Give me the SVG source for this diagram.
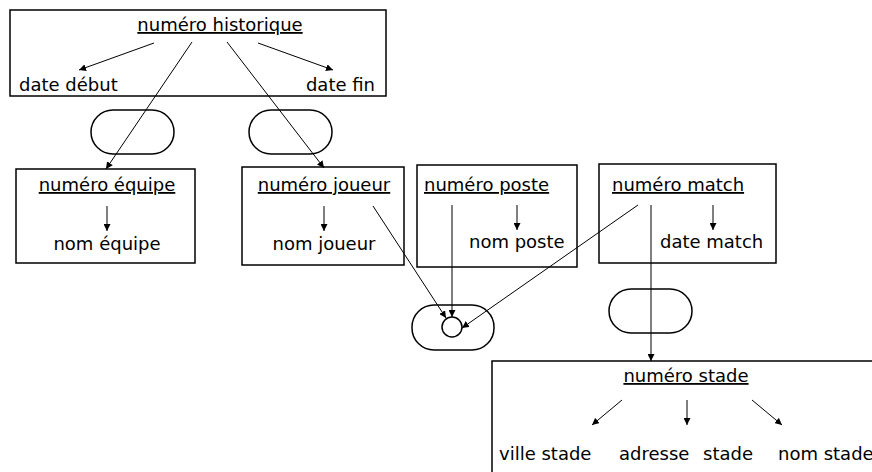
<svg xmlns="http://www.w3.org/2000/svg" width="872" height="472" viewBox="0 0 872 472">
<style>
.box{fill:#fff;stroke:#000;stroke-width:1.5}
.pill{fill:none;stroke:#000;stroke-width:1.5}
text{font-family:"DejaVu Sans",sans-serif;font-size:18px;fill:#000}
.u{text-decoration:underline}
.c{text-anchor:middle}
.ln{stroke:#000;stroke-width:1;fill:none}
</style>
<defs>
<marker id="ah" viewBox="0 0 10 10" refX="10" refY="5" markerWidth="7" markerHeight="7" markerUnits="userSpaceOnUse" orient="auto">
<path d="M0,0 L10,5 L0,10 z" fill="#000"/>
</marker>
</defs>
<rect width="872" height="472" fill="#fff"/>
<g id="historique">
<rect class="box" x="10" y="10" width="376" height="86"/>
<text class="c u" x="220" y="31">numéro historique</text>
<text x="19" y="91">date début</text>
<text x="375" y="91" text-anchor="end">date fin</text>
<line class="ln" x1="154" y1="43" x2="79" y2="70" marker-end="url(#ah)"/>
<line class="ln" x1="258" y1="43" x2="333" y2="70" marker-end="url(#ah)"/>
</g>
<g id="pill1"><rect class="pill" x="91" y="110" width="83" height="44" rx="22"/></g>
<g id="pill2"><rect class="pill" x="249" y="110" width="83" height="44" rx="22"/></g>
<g id="equipe">
<rect class="box" x="16" y="169" width="179" height="94"/>
<text class="c u" x="107" y="191">numéro équipe</text>
<text class="c" x="107" y="250">nom équipe</text>
<line class="ln" x1="107" y1="206" x2="107" y2="231" marker-end="url(#ah)"/>
</g>
<g id="joueur">
<rect class="box" x="242" y="167" width="162" height="98"/>
<text class="c u" x="324" y="191">numéro joueur</text>
<text class="c" x="324" y="250">nom joueur</text>
<line class="ln" x1="324" y1="206" x2="324" y2="231" marker-end="url(#ah)"/>
</g>
<g id="poste">
<rect class="box" x="417" y="165" width="160" height="102"/>
<text class="u" x="424" y="191">numéro poste</text>
<text x="469" y="248">nom poste</text>
<line class="ln" x1="517" y1="205" x2="517" y2="230" marker-end="url(#ah)"/>
</g>
<g id="match">
<rect class="box" x="599" y="164" width="177" height="99"/>
<text class="u" x="612" y="191">numéro match</text>
<text x="660" y="248">date match</text>
<line class="ln" x1="713" y1="205" x2="713" y2="230" marker-end="url(#ah)"/>
</g>
<g id="assoc">
<rect class="pill" x="412" y="305" width="82" height="45" rx="22"/>
<circle class="pill" cx="452" cy="327" r="10"/>
</g>
<g id="pill3"><rect class="pill" x="609" y="289" width="83" height="44" rx="22"/></g>
<g id="stade">
<rect class="box" x="492" y="361" width="390" height="120"/>
<text class="c u" x="686" y="382">numéro stade</text>
<text x="499" y="460">ville stade</text>
<text x="619" y="460">adresse<tspan x="703">stade</tspan></text>
<text x="778" y="460">nom stade</text>
<line class="ln" x1="622" y1="400" x2="592" y2="425" marker-end="url(#ah)"/>
<line class="ln" x1="687" y1="400" x2="687" y2="425" marker-end="url(#ah)"/>
<line class="ln" x1="752" y1="400" x2="782" y2="425" marker-end="url(#ah)"/>
</g>
<g id="connectors">
<line class="ln" x1="192" y1="42" x2="106" y2="169" marker-end="url(#ah)"/>
<line class="ln" x1="227" y1="42" x2="324" y2="168" marker-end="url(#ah)"/>
<line class="ln" x1="373" y1="206" x2="446" y2="318" marker-end="url(#ah)"/>
<line class="ln" x1="452" y1="205" x2="452" y2="317" marker-end="url(#ah)"/>
<line class="ln" x1="638" y1="205" x2="462" y2="328" marker-end="url(#ah)"/>
<line class="ln" x1="651" y1="205" x2="651" y2="361" marker-end="url(#ah)"/>
</g>
</svg>
